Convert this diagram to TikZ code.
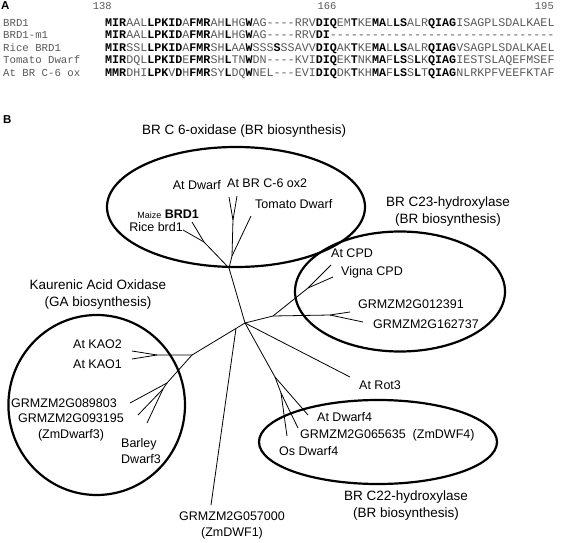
\documentclass[tikz,border=0pt]{standalone}
\usepackage{fontspec}
\setmainfont{Liberation Sans}
\setmonofont{Liberation Mono}
\usetikzlibrary{calc}
\definecolor{seqgray}{gray}{0.35}
\newcommand{\bx}[1]{{\bfseries\color{black}#1}}

\begin{document}
\begin{tikzpicture}[x=1pt, y=-1pt,
	edge/.style={line width=0.8pt},
	group/.style={line width=2.2pt},
	lab/.style={font=\fontsize{12.5}{15.5}\selectfont, inner sep=0pt},
	ttl/.style={font=\fontsize{13.5}{17}\selectfont, inner sep=0pt, align=center},
	seq/.style={font=\ttfamily\fontsize{11.7}{12}\selectfont, text=seqgray, inner sep=0pt, anchor=base west},
	seqname/.style={font=\ttfamily\fontsize{10.7}{12}\selectfont, text=seqgray, inner sep=0pt, anchor=base west},
	seqpos/.style={font=\ttfamily\fontsize{10.5}{12}\selectfont, text=seqgray, inner sep=0pt, anchor=base east},
	panel/.style={font=\bfseries\fontsize{11.5}{12}\selectfont, inner sep=0pt, anchor=base west}]
	\useasboundingbox (0,0) rectangle (563,543);
	% panel A: alignment
	\node[panel] (pA) at (1,9.5) {A};
	\node[seqpos] (n138) at (112,9.5) {138};
	\node[seqpos] (n166) at (336.7,9.5) {166};
	\node[seqpos] (n195) at (554,9.5) {195};
	\node[seqname] (s1) at (3,26.5) {BRD1};
	\node[seqname] (s2) at (3,39) {BRD1-m1};
	\node[seqname] (s3) at (3,51.5) {Rice BRD1};
	\node[seqname] (s4) at (3,64) {Tomato Dwarf};
	\node[seqname] (s5) at (3,76.3) {At BR C-6 ox};
	\node[seq] (q1) at (105,26.5) {\bx{MIR}AAL\bx{LPKID}A\bx{FMR}AH\bx{L}HG\bx{W}AG----RRV\bx{DIQ}EM\bx{T}KE\bx{MA}L\bx{LS}ALR\bx{QIAG}ISAGPLSDALKAEL};
	\node[seq] (q2) at (105,39) {\bx{MIR}AAL\bx{LPKID}A\bx{FMR}AH\bx{L}HG\bx{W}AG----RRV\bx{DI}--------------------------------};
	\node[seq] (q3) at (105,51.5) {\bx{MIR}SSL\bx{LPKID}A\bx{FMR}SH\bx{L}AA\bx{W}SSS\bx{S}SSAVV\bx{DIQ}AK\bx{T}KE\bx{MA}L\bx{LS}ALR\bx{QIAG}VSAGPLSDALKAEL};
	\node[seq] (q4) at (105,64) {\bx{MIR}DQL\bx{LPKID}E\bx{FMR}SH\bx{L}TN\bx{W}DN----KVI\bx{DIQ}EK\bx{T}NK\bx{MA}F\bx{LS}S\bx{L}K\bx{QIAG}IESTSLAQEFMSEF};
	\node[seq] (q5) at (105,76.3) {\bx{MMR}DHI\bx{LPK}V\bx{D}H\bx{FMR}SY\bx{L}DQ\bx{W}NEL---EVI\bx{DIQ}DK\bx{T}KH\bx{MA}F\bx{LS}S\bx{L}T\bx{QIAG}NLRKPFVEEFKTAF};
	% panel B: tree
	\node[panel] (pB) at (3,124) {B};
	% junctions and tips
	\coordinate (root) at (245,323);
	\coordinate (c6) at (229,268);
	\coordinate (brd) at (204,242);
	\coordinate (tom) at (232,256);
	\coordinate (atd) at (233,220);
	\coordinate (tMaize) at (192,222);
	\coordinate (tRice) at (183,230);
	\coordinate (tAtDwarf) at (229,197);
	\coordinate (tAtC6) at (237,196);
	\coordinate (tTomato) at (251,216);
	\coordinate (cpd0) at (273,316);
	\coordinate (cpd) at (308,288);
	\coordinate (tAtCPD) at (331,265);
	\coordinate (tVigna) at (333,277);
	\coordinate (grm) at (330,315);
	\coordinate (tG1) at (350,312);
	\coordinate (tG2) at (363,322);
	\coordinate (tRot3) at (350,377);
	\coordinate (dw4) at (275,377);
	\coordinate (dw4b) at (281,393);
	\coordinate (tAtDw4) at (308,415);
	\coordinate (tZmDw4) at (298,428);
	\coordinate (tOsDw4) at (287,436);
	\coordinate (kao0) at (192,355);
	\coordinate (zmd) at ($(root)!0.17!(kao0)$);
	\coordinate (tZmDWF1) at (211,505);
	\coordinate (kao) at (157,355);
	\coordinate (tKAO2) at (132,351);
	\coordinate (tKAO1) at (132,359);
	\coordinate (dw3) at (167,383);
	\coordinate (dw3b) at (163,389);
	\coordinate (tG3) at (130,403);
	\coordinate (tG4) at (138,415);
	\coordinate (tBarley) at (147,423);
	% branches
	\draw[edge] (root) -- (c6) -- (tom) -- (atd) -- (tAtDwarf);
	\draw[edge] (atd) -- (tAtC6);
	\draw[edge] (tom) -- (tTomato);
	\draw[edge] (c6) -- (brd) -- (tMaize);
	\draw[edge] (brd) -- (tRice);
	\draw[edge] (root) -- (cpd0) -- (cpd) -- (tAtCPD);
	\draw[edge] (cpd) -- (tVigna);
	\draw[edge] (cpd0) -- (grm) -- (tG1);
	\draw[edge] (grm) -- (tG2);
	\draw[edge] (root) -- (tRot3);
	\draw[edge] (root) -- (dw4) -- (tAtDw4);
	\draw[edge] (dw4) -- (dw4b) -- (tZmDw4);
	\draw[edge] (dw4b) -- (tOsDw4);
	\draw[edge] (root) -- (kao0) -- (kao) -- (tKAO2);
	\draw[edge] (kao) -- (tKAO1);
	\draw[edge] (zmd) -- (tZmDWF1);
	\draw[edge] (kao0) -- (dw3) -- (tG3);
	\draw[edge] (dw3) -- (dw3b) -- (tG4);
	\draw[edge] (dw3b) -- (tBarley);
	% groups
	\draw[group] (236,207) ellipse [x radius=129, y radius=60];
	\draw[group] (400,291.5) ellipse [x radius=105, y radius=60];
	\draw[group] (96.7,405) ellipse [x radius=88.3, y radius=90];
	\draw[group] (378,442) ellipse [x radius=119, y radius=42];
	% group titles
	\node[ttl, anchor=base west] (gC6) at (142,134.5) {BR C 6-oxidase (BR biosynthesis)};
	\node[ttl] (gC23) at (448,212) {BR C23-hydroxylase\\(BR biosynthesis)};
	\node[ttl] (gKAO) at (98,295) {Kaurenic Acid Oxidase\\(GA biosynthesis)};
	\node[ttl] (gC22) at (406,505.7) {BR C22-hydroxylase\\(BR biosynthesis)};
	% tip labels
	\node[lab, anchor=base east] (lAtDwarf) at (221,189.5) {At Dwarf};
	\node[lab, anchor=base west] (lAtC6) at (227,187) {At BR C-6 ox2};
	\node[lab, anchor=base west] (lTomato) at (255,208) {Tomato Dwarf};
	\node[lab, anchor=base east] (lMaize) at (199,218) {{\fontsize{9}{10}\selectfont Maize} \textbf{BRD1}};
	\node[lab, anchor=base east] (lRice) at (183,231) {Rice brd1};
	\node[lab, anchor=base west] (lAtCPD) at (331,257) {At CPD};
	\node[lab, anchor=base west] (lVigna) at (341,275) {Vigna CPD};
	\node[lab, anchor=base west] (lG1) at (358,308.5) {GRMZM2G012391};
	\node[lab, anchor=base west] (lG2) at (373,328.5) {GRMZM2G162737};
	\node[lab, anchor=base west] (lRot3) at (359,389.5) {At Rot3};
	\node[lab, anchor=base west] (lAtDw4) at (317,421) {At Dwarf4};
	\node[lab, anchor=base west] (lZmDw4) at (300,438.5) {GRMZM2G065635\ \ (ZmDWF4)};
	\node[lab, anchor=base west] (lOsDw4) at (279,455) {Os Dwarf4};
	\node[lab, align=center] (lZmDWF1) at (232,525.5) {GRMZM2G057000\\(ZmDWF1)};
	\node[lab, anchor=base east] (lKAO2) at (122,348) {At KAO2};
	\node[lab, anchor=base east] (lKAO1) at (122,368.5) {At KAO1};
	\node[lab, anchor=base east] (lG3) at (117,407) {GRMZM2G089803};
	\node[lab, align=center] (lG4) at (71,427.5) {GRMZM2G093195\\(ZmDwarf3)};
	\node[lab, align=left, anchor=west] (lBarley) at (121,451) {Barley\\Dwarf3};
\end{tikzpicture}
\end{document}
